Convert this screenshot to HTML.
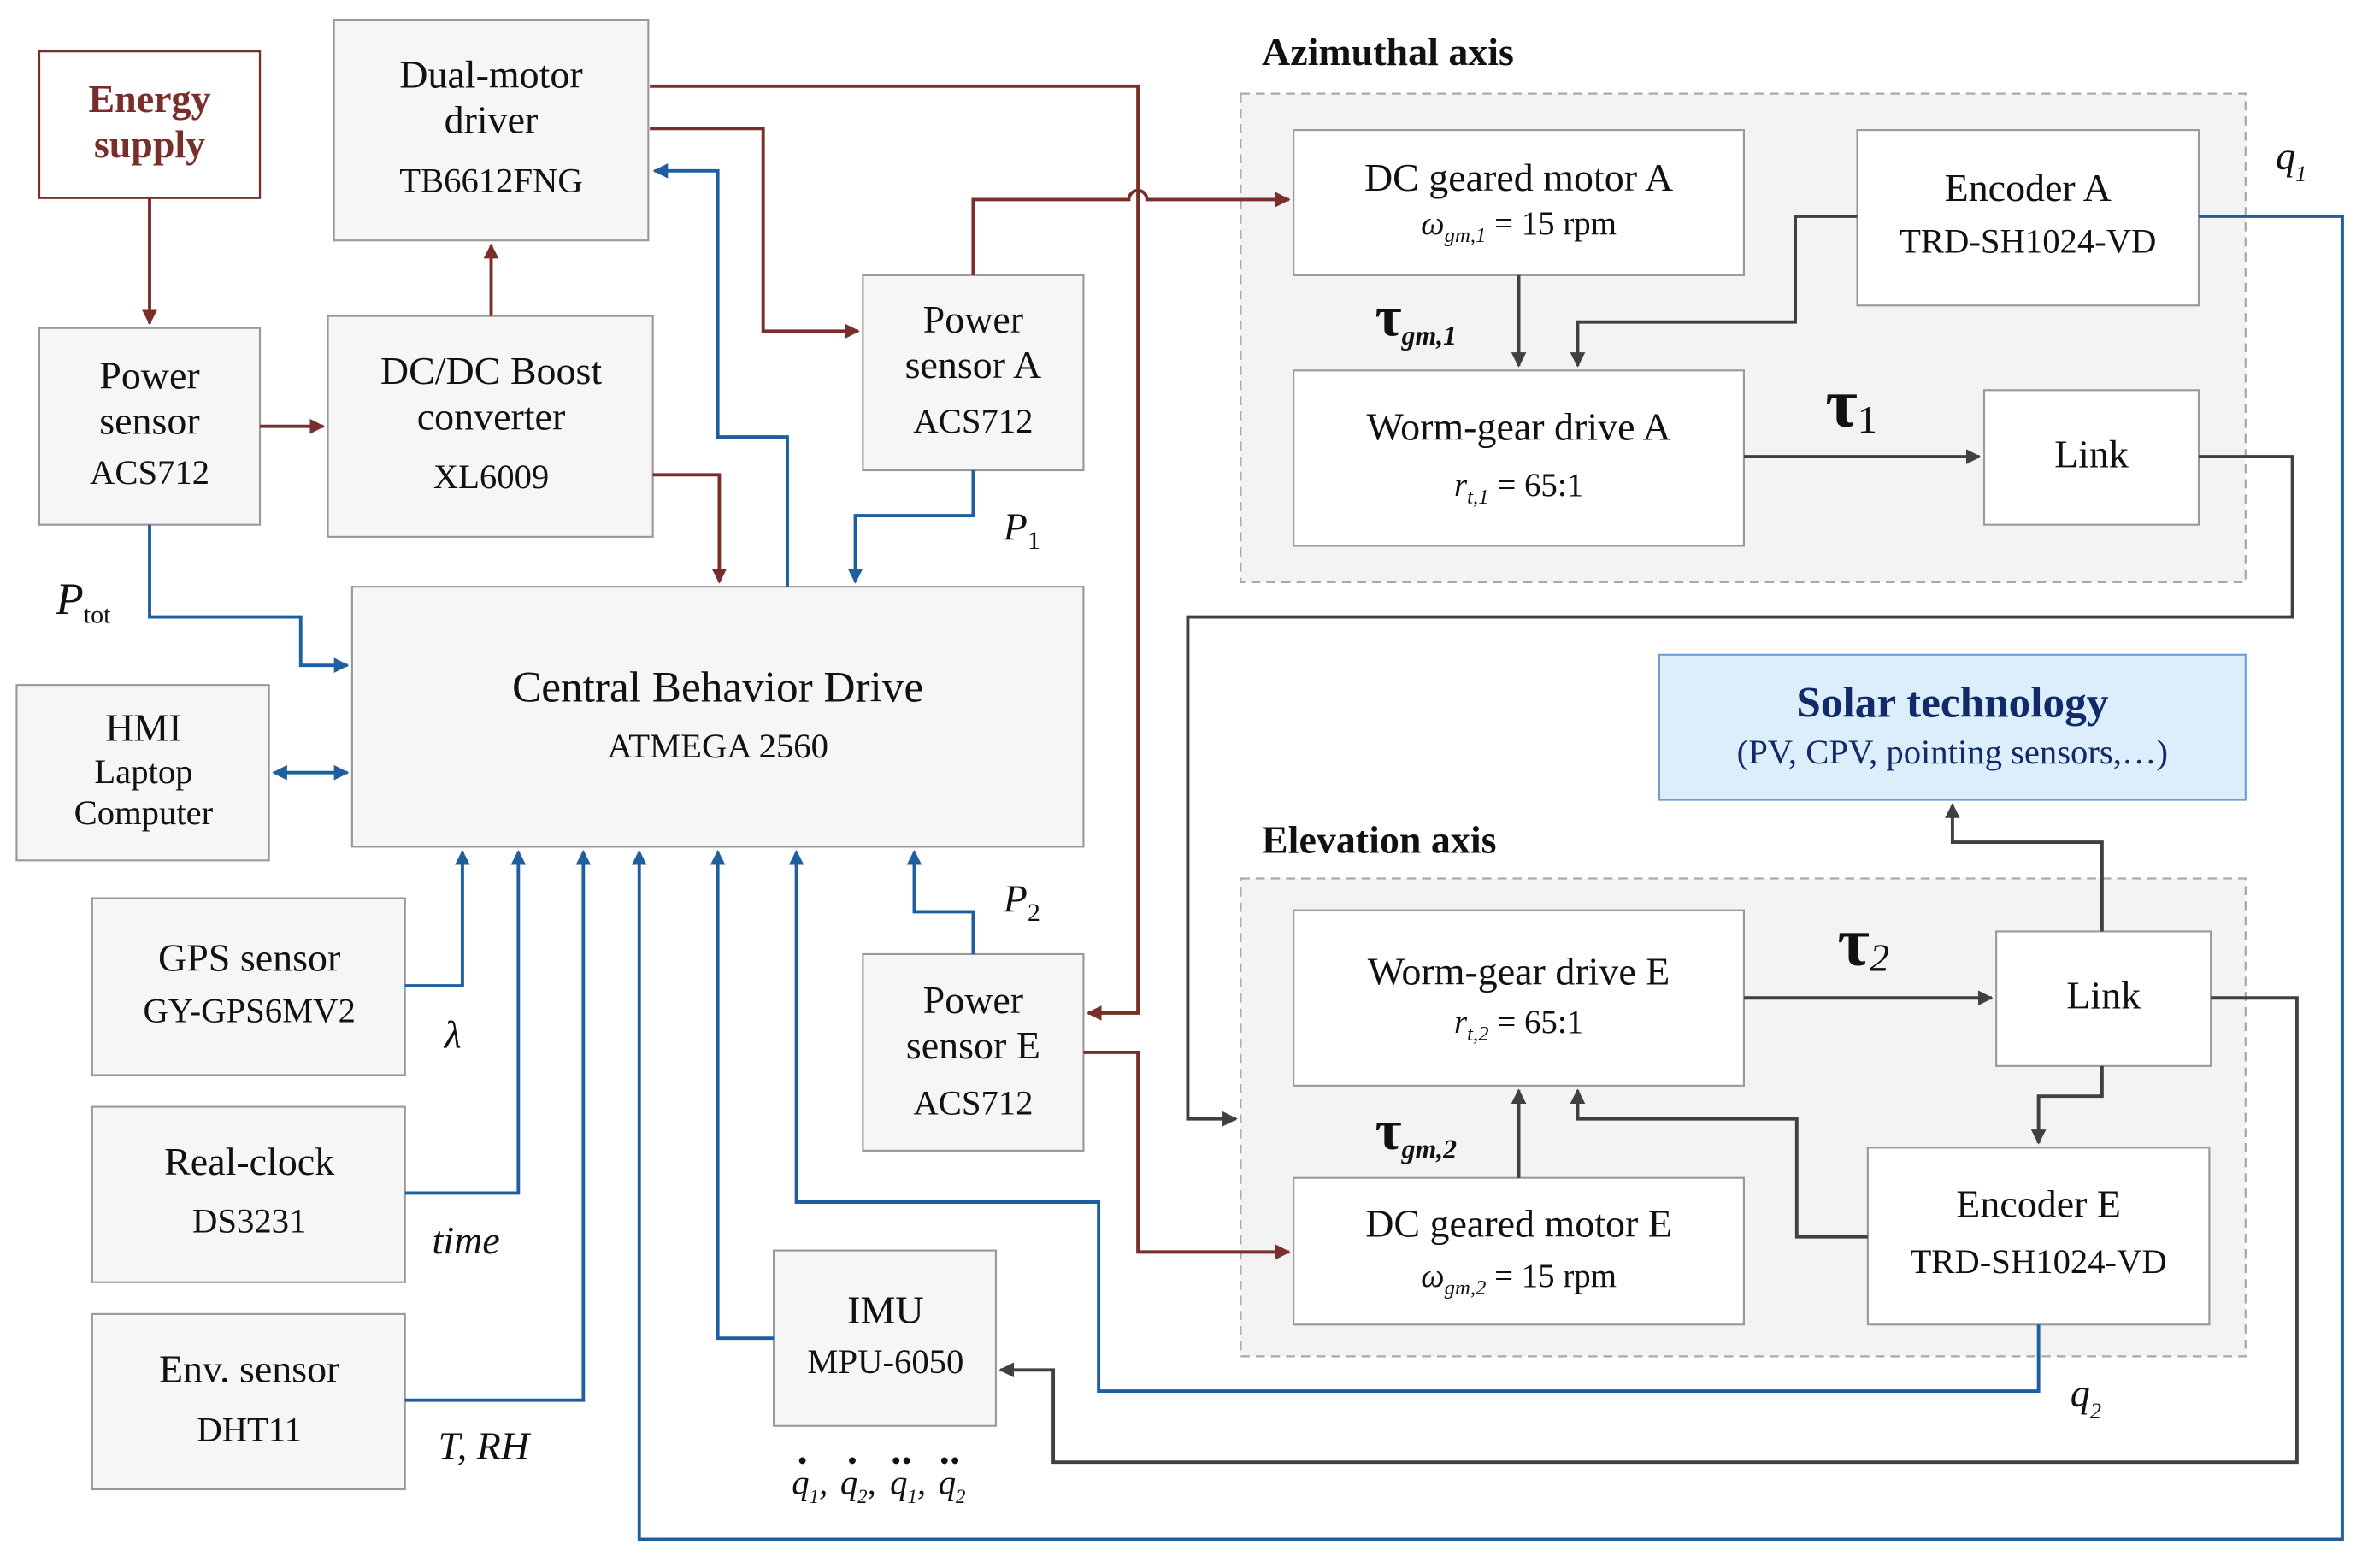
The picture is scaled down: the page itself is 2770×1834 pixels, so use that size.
<!DOCTYPE html>
<html><head><meta charset="utf-8"><style>
html,body{margin:0;padding:0;background:#fff;}
svg{display:block;}
text{font-family:"Liberation Serif",serif;fill:#111;}
</style></head><body>
<svg width="2770" height="1834" viewBox="0 0 1567 1037" preserveAspectRatio="none" xmlns="http://www.w3.org/2000/svg">
<defs>
<marker id="r" markerWidth="10" markerHeight="10" refX="9" refY="5" orient="auto" markerUnits="userSpaceOnUse"><path d="M0,0 L10,5 L0,10 z" fill="#7a2e2a"/></marker>
<marker id="b" markerWidth="10" markerHeight="10" refX="9" refY="5" orient="auto" markerUnits="userSpaceOnUse"><path d="M0,0 L10,5 L0,10 z" fill="#1f5fa0"/></marker>
<marker id="bs" markerWidth="10" markerHeight="10" refX="1" refY="5" orient="auto" markerUnits="userSpaceOnUse"><path d="M10,0 L0,5 L10,10 z" fill="#1f5fa0"/></marker>
<marker id="g" markerWidth="10" markerHeight="10" refX="9" refY="5" orient="auto" markerUnits="userSpaceOnUse"><path d="M0,0 L10,5 L0,10 z" fill="#404040"/></marker>
</defs>
<g fill="#f3f3f3" stroke="#aaa" stroke-width="1.3" stroke-dasharray="6,4">
<rect x="821" y="62" width="665" height="323"/>
<rect x="821" y="581" width="665" height="316"/>
</g>
<g fill="#f6f6f6" stroke="#999" stroke-width="1.2">
<rect x="221" y="13" width="208" height="146"/>
<rect x="26" y="217" width="146" height="130"/>
<rect x="217" y="209" width="215" height="146"/>
<rect x="571" y="182" width="146" height="129"/>
<rect x="233" y="388" width="484" height="172"/>
<rect x="11" y="453" width="167" height="116"/>
<rect x="61" y="594" width="207" height="117"/>
<rect x="61" y="732" width="207" height="116"/>
<rect x="61" y="869" width="207" height="116"/>
<rect x="571" y="631" width="146" height="130"/>
<rect x="512" y="827" width="147" height="116"/>
</g>
<g fill="#fff" stroke="#999" stroke-width="1.2">
<rect x="856" y="86" width="298" height="96"/>
<rect x="1229" y="86" width="226" height="116"/>
<rect x="856" y="245" width="298" height="116"/>
<rect x="1313" y="258" width="142" height="89"/>
<rect x="856" y="602" width="298" height="116"/>
<rect x="1321" y="616" width="142" height="89"/>
<rect x="856" y="779" width="298" height="97"/>
<rect x="1236" y="759" width="226" height="117"/>
</g>
<rect x="26" y="34" width="146" height="97" fill="#fff" stroke="#7a2e2a" stroke-width="1.3"/>
<rect x="1098" y="433" width="388" height="96" fill="#dcedfc" stroke="#6aa0d0" stroke-width="1.2"/>
<g fill="none" stroke="#7a2e2a" stroke-width="2.2">
<path d="M99,131 V214" marker-end="url(#r)"/>
<path d="M172,282 H214" marker-end="url(#r)"/>
<path d="M325,209 V162" marker-end="url(#r)"/>
<path d="M432,314 H476 V385" marker-end="url(#r)"/>
<path d="M430,85 H505 V219 H568" marker-end="url(#r)"/>
<path d="M430,57 H753 V670 H720" marker-end="url(#r)"/>
<path d="M644,182 V132 H747 A6,6 0 0 1 759,132 H853" marker-end="url(#r)"/>
<path d="M717,696 H753 V828 H853" marker-end="url(#r)"/>
</g>
<g fill="none" stroke="#1f5fa0" stroke-width="2.2">
<path d="M99,347 V408 H199 V440 H230" marker-end="url(#b)"/>
<path d="M521,388 V289 H475 V113 H433" marker-end="url(#b)"/>
<path d="M644,311 V341 H566 V385" marker-end="url(#b)"/>
<path d="M181,511 H230" marker-end="url(#b)" marker-start="url(#bs)"/>
<path d="M268,652 H306 V563" marker-end="url(#b)"/>
<path d="M268,789 H343 V563" marker-end="url(#b)"/>
<path d="M268,926 H386 V563" marker-end="url(#b)"/>
<path d="M1455,143 H1550 V1018 H423 V563" marker-end="url(#b)"/>
<path d="M512,885 H475 V563" marker-end="url(#b)"/>
<path d="M1349,876 V920 H727 V795 H527 V563" marker-end="url(#b)"/>
<path d="M644,631 V603 H605 V563" marker-end="url(#b)"/>
</g>
<g fill="none" stroke="#404040" stroke-width="2.2">
<path d="M1005,182 V242" marker-end="url(#g)"/>
<path d="M1229,143 H1188 V213 H1044 V242" marker-end="url(#g)"/>
<path d="M1154,302 H1310" marker-end="url(#g)"/>
<path d="M1455,302 H1517 V408 H786 V740 H818" marker-end="url(#g)"/>
<path d="M1154,660 H1318" marker-end="url(#g)"/>
<path d="M1391,616 V557 H1292 V532" marker-end="url(#g)"/>
<path d="M1391,705 V725 H1349 V756" marker-end="url(#g)"/>
<path d="M1005,779 V721" marker-end="url(#g)"/>
<path d="M1236,818 H1189 V740 H1044 V721" marker-end="url(#g)"/>
<path d="M1463,660 H1520 V967 H697 V906 H662" marker-end="url(#g)"/>
</g>
<g text-anchor="middle" font-size="26">
<text x="99" y="74" font-weight="bold" style="fill:#7a2e2a">Energy</text>
<text x="99" y="104" font-weight="bold" style="fill:#7a2e2a">supply</text>
<text x="325" y="58">Dual-motor</text>
<text x="325" y="88">driver</text>
<text x="325" y="127" font-size="23">TB6612FNG</text>
<text x="99" y="257">Power</text>
<text x="99" y="287">sensor</text>
<text x="99" y="320" font-size="23">ACS712</text>
<text x="325" y="254">DC/DC Boost</text>
<text x="325" y="284">converter</text>
<text x="325" y="323" font-size="23">XL6009</text>
<text x="644" y="220">Power</text>
<text x="644" y="250">sensor A</text>
<text x="644" y="286" font-size="23">ACS712</text>
<text x="475" y="464" font-size="29">Central Behavior Drive</text>
<text x="475" y="501" font-size="23">ATMEGA 2560</text>
<text x="95" y="490">HMI</text>
<text x="95" y="518" font-size="23">Laptop</text>
<text x="95" y="545" font-size="23">Computer</text>
<text x="165" y="642">GPS sensor</text>
<text x="165" y="676" font-size="23">GY-GPS6MV2</text>
<text x="165" y="777">Real-clock</text>
<text x="165" y="815" font-size="23">DS3231</text>
<text x="165" y="914">Env. sensor</text>
<text x="165" y="953" font-size="23">DHT11</text>
<text x="644" y="670">Power</text>
<text x="644" y="700">sensor E</text>
<text x="644" y="737" font-size="23">ACS712</text>
<text x="586" y="875">IMU</text>
<text x="586" y="908" font-size="23">MPU-6050</text>
<text x="1005" y="126">DC geared motor A</text>
<text x="1005" y="155" font-size="22"><tspan font-style="italic">ω</tspan><tspan font-style="italic" font-size="14" dy="5">gm,1</tspan><tspan dy="-5"> = 15 rpm</tspan></text>
<text x="1342" y="133">Encoder A</text>
<text x="1342" y="167" font-size="23">TRD-SH1024-VD</text>
<text x="1005" y="291">Worm-gear drive A</text>
<text x="1005" y="328" font-size="22"><tspan font-style="italic">r</tspan><tspan font-style="italic" font-size="14" dy="5">t,1</tspan><tspan dy="-5"> = 65:1</tspan></text>
<text x="1384" y="309">Link</text>
<text x="1292" y="474" font-size="29" font-weight="bold" style="fill:#102a6a">Solar technology</text>
<text x="1292" y="505" font-size="23" style="fill:#102a6a">(PV, CPV, pointing sensors,…)</text>
<text x="1005" y="651">Worm-gear drive E</text>
<text x="1005" y="683" font-size="22"><tspan font-style="italic">r</tspan><tspan font-style="italic" font-size="14" dy="5">t,2</tspan><tspan dy="-5"> = 65:1</tspan></text>
<text x="1392" y="667">Link</text>
<text x="1005" y="818">DC geared motor E</text>
<text x="1005" y="851" font-size="22"><tspan font-style="italic">ω</tspan><tspan font-style="italic" font-size="14" dy="5">gm,2</tspan><tspan dy="-5"> = 15 rpm</tspan></text>
<text x="1349" y="805">Encoder E</text>
<text x="1349" y="842" font-size="23">TRD-SH1024-VD</text>
</g>
<g font-size="26">
<text x="835" y="43" font-weight="bold">Azimuthal axis</text>
<text x="835" y="564" font-weight="bold">Elevation axis</text>
<text x="37" y="406" font-style="italic" font-size="30">P<tspan font-size="17" font-style="normal" dy="6">tot</tspan></text>
<text x="664" y="357" font-style="italic">P<tspan font-size="17" font-style="normal" dy="6">1</tspan></text>
<text x="664" y="603" font-style="italic">P<tspan font-size="17" font-style="normal" dy="6">2</tspan></text>
<text x="294" y="693" font-style="italic">λ</text>
<text x="286" y="829" font-style="italic">time</text>
<text x="290" y="965" font-style="italic">T, RH</text>
<text x="1506" y="112" font-style="italic">q<tspan font-size="15" dy="8">1</tspan></text>
<text x="1370" y="930" font-style="italic">q<tspan font-size="15" dy="8">2</tspan></text>
<text x="1208" y="282" font-size="46" font-weight="bold">τ<tspan font-size="26" dy="4" font-weight="normal">1</tspan></text>
<text x="1216" y="638" font-size="46" font-weight="bold">τ<tspan font-size="26" dy="4" font-style="italic" font-weight="normal">2</tspan></text>
<text x="910" y="222" font-size="38" font-weight="bold">τ<tspan font-size="18" dy="6" font-style="italic">gm,1</tspan></text>
<text x="910" y="760" font-size="38" font-weight="bold">τ<tspan font-size="18" dy="6" font-style="italic">gm,2</tspan></text>
<g font-style="italic" font-size="23">
<text x="524" y="988">q<tspan font-size="13" dy="6">1</tspan><tspan dy="-6">,</tspan></text>
<text x="556" y="988">q<tspan font-size="13" dy="6">2</tspan><tspan dy="-6">,</tspan></text>
<text x="589" y="988">q<tspan font-size="13" dy="6">1</tspan><tspan dy="-6">,</tspan></text>
<text x="621" y="988">q<tspan font-size="13" dy="6">2</tspan></text>
</g>
</g>
<g fill="#111">
<circle cx="531" cy="966" r="2.2"/><circle cx="564" cy="966" r="2.2"/>
<circle cx="593" cy="966" r="2.2"/><circle cx="600" cy="966" r="2.2"/>
<circle cx="625" cy="966" r="2.2"/><circle cx="632" cy="966" r="2.2"/>
</g>
</svg>
</body></html>
